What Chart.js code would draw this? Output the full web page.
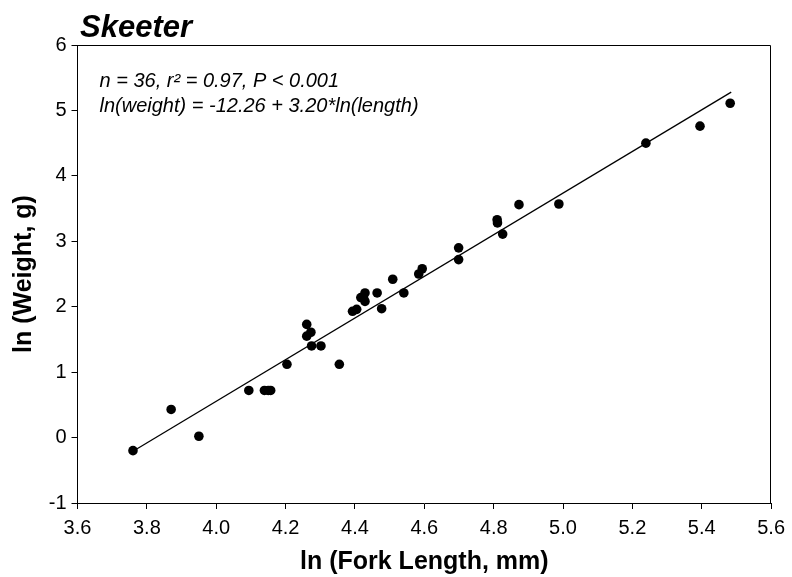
<!DOCTYPE html>
<html><head><meta charset="utf-8">
<script src="https://cdn.jsdelivr.net/npm/chart.js@4.4.0/dist/chart.umd.min.js"></script>
<style>html,body{margin:0;padding:0;background:#fff;} #wrap{width:792px;height:577px;}</style>
</head><body><div id="wrap"><canvas id="c" width="792" height="577"></canvas></div>
<script>
const lnLength = [3.76, 3.87, 3.95, 4.094, 4.139, 4.157, 4.15, 4.204, 4.261, 4.273, 4.261, 4.275, 4.302, 4.355,
  4.393, 4.405, 4.417, 4.429, 4.429, 4.425, 4.464, 4.477, 4.509, 4.541, 4.584, 4.594,
  4.699, 4.699, 4.810, 4.811, 4.826, 4.873, 4.988, 5.239, 5.395, 5.482];
const lnWeight = [-0.20, 0.43, 0.02, 0.72, 0.72, 0.72, 0.72, 1.12, 1.73, 1.61, 1.55, 1.40, 1.40, 1.12,
  1.93, 1.96, 2.14, 2.21, 2.08, 2.13, 2.21, 1.97, 2.42, 2.21, 2.50, 2.58,
  2.90, 2.72, 3.33, 3.28, 3.11, 3.56, 3.57, 4.50, 4.76, 5.11];
const fitLength = [3.76, 5.485];
const fitWeight = [-0.21, 5.28];
const xTickLabels = ['3.6','3.8','4.0','4.2','4.4','4.6','4.8','5.0','5.2','5.4','5.6'];
const yTickLabels = ['-1','0','1','2','3','4','5','6'];
const titleText = 'Skeeter';
const statsLines = ['n = 36, r\u00B2 = 0.97, P < 0.001', 'ln(weight) = -12.26 + 3.20*ln(length)'];
const xTitle = 'ln (Fork Length, mm)';
const yTitle = 'ln (Weight, g)';

const FONT = "'Liberation Sans', Arial, sans-serif";
const points = lnLength.map((x, i) => ({x: x, y: lnWeight[i]}));
const fitPoints = fitLength.map((x, i) => ({x: x, y: fitWeight[i]}));

const framePlugin = {
  id: 'frame',
  afterDraw(chart) {
    const {ctx, chartArea: a} = chart;
    ctx.save();
    ctx.strokeStyle = '#000';
    ctx.lineWidth = 1;
    const t = Math.round(a.top) + 0.5, r = Math.round(a.right) - 0.5;
    ctx.beginPath();
    ctx.moveTo(a.left, t); ctx.lineTo(r, t); ctx.lineTo(r, a.bottom);
    ctx.stroke();
    ctx.fillStyle = '#000';
    ctx.textBaseline = 'alphabetic';
    ctx.textAlign = 'left';
    ctx.font = "italic bold 31px " + FONT;
    ctx.fillText(titleText, a.left + 2.5, a.top - 8);
    ctx.font = "italic 20px " + FONT;
    ctx.fillText(statsLines[0], a.left + 22, a.top + 42.3);
    ctx.fillText(statsLines[1], a.left + 22, a.top + 66.7);
    ctx.restore();
  }
};

new Chart(document.getElementById('c'), {
  type: 'scatter',
  data: {
    datasets: [
      {data: points, backgroundColor: '#000', borderColor: '#000', borderWidth: 0, pointRadius: 4.8, order: 0},
      {type: 'line', data: fitPoints, borderColor: '#000', borderWidth: 1.3, pointRadius: 0, showLine: true, fill: false, order: 1}
    ]
  },
  options: {
    responsive: false,
    animation: false,
    devicePixelRatio: 1,
    layout: {padding: {left: 0, top: 45, right: 20.5, bottom: 0}},
    plugins: {legend: {display: false}, tooltip: {enabled: false}, title: {display: false}},
    scales: {
      x: {
        type: 'linear', min: 3.6, max: 5.6,
        ticks: {stepSize: 0.2, color: '#000', font: {family: FONT, size: 20}, padding: 7,
          callback: (v) => xTickLabels[Math.round((v - 3.6) / 0.2)]},
        grid: {drawOnChartArea: false, drawTicks: true, tickLength: 6, color: '#000', tickColor: '#000'},
        border: {display: true, color: '#000', width: 1},
        title: {display: true, text: xTitle, color: '#000', font: {family: FONT, size: 25, weight: 'bold'}, padding: {top: 0, bottom: 0}},
        afterFit: (s) => { s.height = 74; }
      },
      y: {
        type: 'linear', min: -1, max: 6,
        ticks: {stepSize: 1, color: '#000', font: {family: FONT, size: 20}, padding: 5,
          callback: (v) => yTickLabels[Math.round(v) + 1]},
        grid: {drawOnChartArea: false, drawTicks: true, tickLength: 6, color: '#000', tickColor: '#000'},
        border: {display: true, color: '#000', width: 1},
        title: {display: true, text: yTitle, color: '#000', font: {family: FONT, size: 25, weight: 'bold'}, padding: {top: 9, bottom: 0}},
        afterFit: (s) => { s.width = 77.5; }
      }
    }
  },
  plugins: [framePlugin]
});
</script>
</body></html>
